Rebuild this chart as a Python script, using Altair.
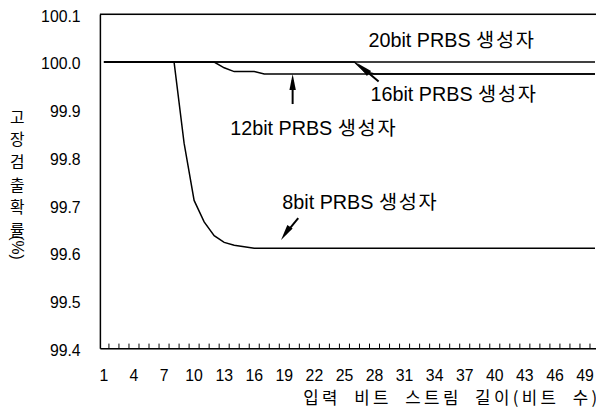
import altair as alt
import pandas as pd

# ---- data ----
x_vals = list(range(1, 51))

bit8 = [100.0] * 7 + [100.0, 99.83, 99.71, 99.665, 99.636, 99.622, 99.616, 99.613, 99.61] + [99.61] * 34
bit12 = [100.0] * 12 + [99.988, 99.98, 99.98, 99.98, 99.975] + [99.975] * 33
bit16 = [100.0] * 26 + [99.98, 99.975] + [99.975] * 22
bit20 = [100.0] * 50

series_names = ["8bit", "12bit", "16bit", "20bit"]
series_vals = [bit8, bit12, bit16, bit20]

x_label_values = list(range(1, 50, 3))
y_label_values = [99.4, 99.5, 99.6, 99.7, 99.8, 99.9, 100.0, 100.1]
minor_tick_x = [i + 0.5 for i in range(1, 50)]

HS = "\u200a"  # hair space
ann_text = [
    f"20bit PRBS 생{HS}성{HS}자",
    f"16bit PRBS 생{HS}성{HS}자",
    f"12bit PRBS 생{HS}성{HS}자",
    f"8bit PRBS 생{HS}성{HS}자",
]
ann_x = [27.4, 27.6, 13.6, 18.8]
ann_y = [100.044, 99.930, 99.860, 99.704]

arr_x1 = [28.41, 19.83, 20.39]
arr_y1 = [99.959, 99.912, 99.673]
arr_x2 = [26.90, 19.83, 19.10]
arr_y2 = [99.986, 99.962, 99.640]
head_x = [26.85, 19.83, 19.12]
head_y = [99.987, 99.958, 99.641]
head_angle = [311, 0, 214]

TS = "\u2009"   # thin space between letters
WS = "\u2003"   # word gap
x_title = WS.join(TS.join(list(w)) for w in ["입력", "비트", "스트림", "길이(비트", "수)"])

FONT = "Liberation Sans, Arial, Noto Sans CJK KR"
KFONT = "Noto Sans CJK KR"

rows = []
for name, vals in zip(series_names, series_vals):
    for xv, yv in zip(x_vals, vals):
        rows.append({"x": xv, "y": yv, "s": name})
df = pd.DataFrame(rows)

xs = alt.Scale(domain=[0.6, 50.1], nice=False, zero=False)
ys = alt.Scale(domain=[99.4, 100.1], nice=False, zero=False)

lines = alt.Chart(df).mark_line(color="black", strokeWidth=1.5, clip=True).encode(
    x=alt.X("x:Q", scale=xs, axis=alt.Axis(
        values=x_label_values, tickSize=0, grid=False, domainColor="black",
        domainWidth=1.5, labels=False,
        title=x_title, titleFont=KFONT,
        titleFontSize=17, titleFontWeight="normal", titleColor="black",
        titleX=354, titleY=51, titleBaseline="middle", titleAlign="center")),
    y=alt.Y("y:Q", scale=ys, axis=alt.Axis(
        values=y_label_values, format=".1f", tickSize=0, grid=False,
        domainColor="black", domainWidth=1.5, labelFontSize=16, labelFont=FONT,
        labelColor="black", labelPadding=20, labelOverlap=False, labelOffset=2,
        title=["고", "장", "검", "출", "확", "률"], titleFont=KFONT,
        titleFontSize=16, titleFontWeight="normal", titleColor="black",
        titleAngle=0, titleLineHeight=23, titleX=-84, titleY=96,
        titleBaseline="top", titleAlign="center")),
    detail="s:N",
)

xlabels = alt.Chart(pd.DataFrame({"v": x_label_values})).mark_text(
    fontSize=16, font=FONT, color="black", baseline="middle", align="center", dy=28
).encode(x=alt.X("v:Q", scale=xs), y=alt.datum(99.4), text=alt.Text("v:Q", format="d"))

top_border = alt.Chart(pd.DataFrame({"y": [100.1]})).mark_rule(color="black", strokeWidth=1.5).encode(
    y=alt.Y("y:Q", scale=ys)
)

ticks = alt.Chart(pd.DataFrame({"x": minor_tick_x})).mark_rule(color="black", strokeWidth=1).encode(
    x=alt.X("x:Q", scale=xs),
    y=alt.datum(99.4),
    y2=alt.datum(99.41),
)

ann = alt.Chart(pd.DataFrame({"x": ann_x, "y": ann_y, "t": ann_text})).mark_text(
    align="left", baseline="middle", fontSize=20, font=FONT, color="black"
).encode(x=alt.X("x:Q", scale=xs), y=alt.Y("y:Q", scale=ys), text="t:N")

shafts = alt.Chart(pd.DataFrame({"x": arr_x1, "y": arr_y1, "x2": arr_x2, "y2": arr_y2})).mark_rule(
    color="black", strokeWidth=2
).encode(x=alt.X("x:Q", scale=xs), y=alt.Y("y:Q", scale=ys), x2="x2:Q", y2="y2:Q")

heads = alt.Chart(pd.DataFrame({"x": head_x, "y": head_y, "a": head_angle})).mark_point(
    shape="M0,-1L-0.4,1L0.4,1Z", filled=True, color="black", opacity=1, size=260
).encode(x=alt.X("x:Q", scale=xs), y=alt.Y("y:Q", scale=ys),
         angle=alt.Angle("a:Q", scale=None))

pct = alt.Chart(pd.DataFrame({"t": ["(%)"]})).mark_text(
    angle=90, fontSize=16, font=FONT, color="black", baseline="middle", align="center"
).encode(x=alt.value(-84), y=alt.value(236), text="t:N")

chart = alt.layer(lines, xlabels, top_border, ticks, ann, shafts, heads, pct).properties(
    width=502, height=338,
    autosize=alt.AutoSizeParams(type="none"),
    padding={"left": 93, "top": 4, "right": 0, "bottom": 62},
).configure_view(stroke=None).configure(background="white")

chart.save("out.html", embed_options={"renderer": "svg", "actions": False})
